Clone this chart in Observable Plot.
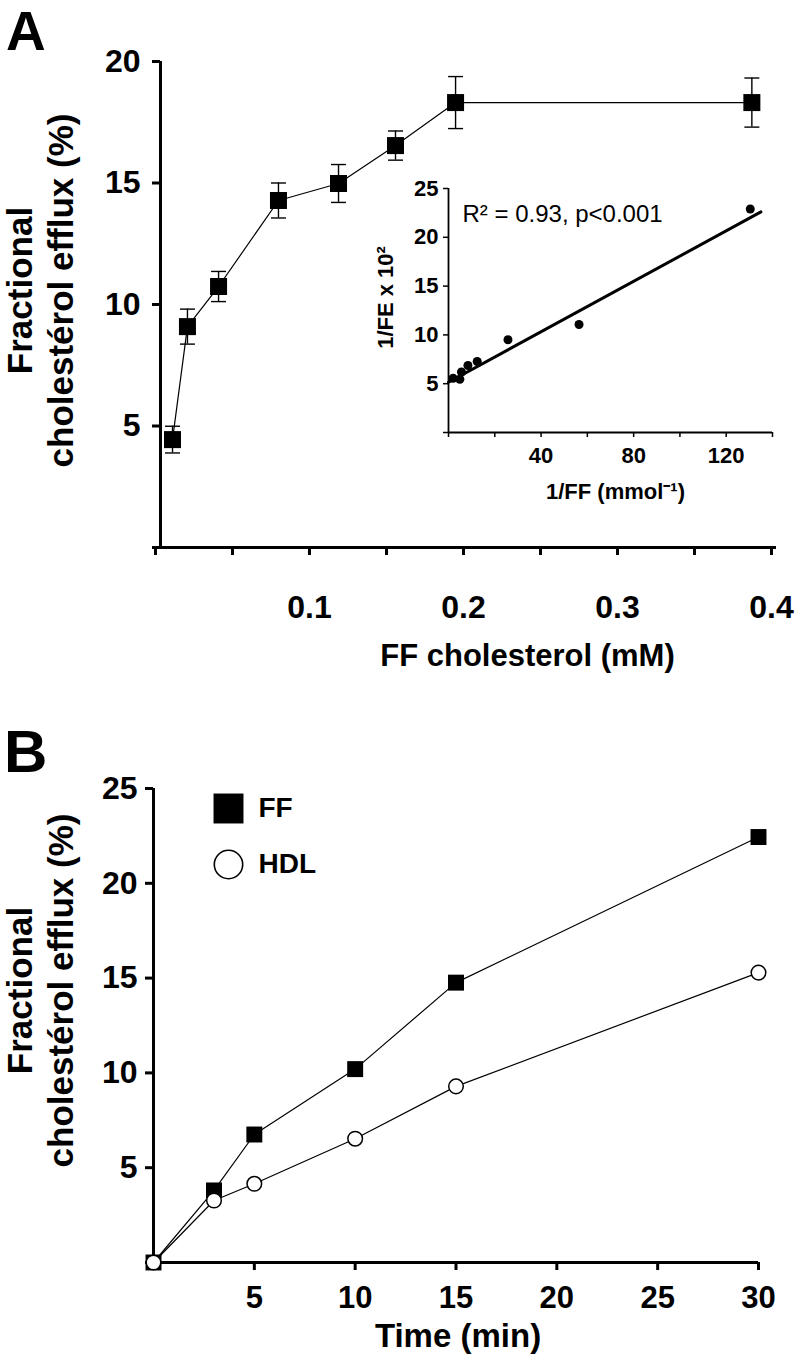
<!DOCTYPE html>
<html>
<head>
<meta charset="utf-8">
<script src="https://cdn.jsdelivr.net/npm/d3@7"></script>
<script src="https://cdn.jsdelivr.net/npm/@observablehq/plot@0.6"></script>
<style>
  html, body { margin: 0; padding: 0; background: white; }
  #wrap { position: relative; width: 797px; height: 1362px; overflow: hidden; font-family: "Liberation Sans", Arial, sans-serif; }
  #wrap > div.panel { position: absolute; }
  .letter { position: absolute; font-weight: bold; line-height: 1.1; color: black; }
</style>
</head>
<body>
<div id="wrap">
  <div class="letter" style="left:6px; top:1px; font-size:55px;">A</div>
  <div class="letter" style="left:4px; top:719px; font-size:60px;">B</div>
  <div class="panel" id="pa" style="left:0; top:0;"></div>
  <div class="panel" id="pinset" style="left:370px; top:170px;"></div>
  <div class="panel" id="pb" style="left:0; top:700px;"></div>
</div>
<script>
// ---------- Panel A: efflux vs FF cholesterol ----------
const ffConc    = [0.0078, 0.0175, 0.0377, 0.0766, 0.1156, 0.1526, 0.1916, 0.384];
const ffEfflux  = [4.44, 9.09, 10.74, 14.28, 14.98, 16.54, 18.31, 18.31];
const ffErr     = [0.55, 0.72, 0.62, 0.72, 0.78, 0.60, 1.07, 1.01];
const xTicksA   = [0, 0.05, 0.1, 0.15, 0.2, 0.25, 0.3, 0.35, 0.4];
const xLabelsA  = [0.1, 0.2, 0.3, 0.4];
const yTicksA   = [0, 5, 10, 15, 20];
const yLabelsA  = [5, 10, 15, 20];
const titleYA   = "Fractional\ncholestérol efflux (%)";
const titleXA   = "FF cholesterol (mM)";

// ---------- Inset: double reciprocal ----------
const invFF     = [2.0, 4.9, 5.6, 8.4, 12.4, 25.7, 56.4, 130.4];
const invFE     = [5.56, 5.46, 6.2, 6.87, 7.27, 9.5, 11.07, 22.9];
const fitX      = [0, 135];
const fitY      = [5.15, 22.6];
const xTicksIn  = [0, 20, 40, 60, 80, 100, 120, 140];
const xLabelsIn = [40, 80, 120];
const yTicksIn  = [0, 5, 10, 15, 20, 25];
const yLabelsIn = [5, 10, 15, 20, 25];
const statText  = "R² = 0.93, p<0.001";
const titleYIn  = "1/FE x 10²";
const titleXIn  = "1/FF (mmol⁻¹)";

// ---------- Panel B: time course ----------
const timeMin   = [0, 3, 5, 10, 15, 30];
const ffB       = [0, 3.8, 6.75, 10.2, 14.76, 22.44];
const hdlB      = [0, 3.27, 4.15, 6.53, 9.29, 15.29];
const seriesB   = ["FF", "HDL"];
const xTicksB   = [0, 5, 10, 15, 20, 25, 30];
const xLabelsB  = [5, 10, 15, 20, 25, 30];
const yTicksB   = [0, 5, 10, 15, 20, 25];
const yLabelsB  = [5, 10, 15, 20, 25];
const titleYB   = "Fractional\ncholestérol efflux (%)";
const titleXB   = "Time (min)";

const FONT = "Liberation Sans, Arial, sans-serif";
const fmt = (labels) => (d) => labels.includes(d) ? String(d) : "";
const capSymbol = { draw(ctx, size) { const r = Math.sqrt(size / Math.PI); ctx.moveTo(-r, 0); ctx.lineTo(r, 0); } };

const rowsA = ffConc.map((x, i) => ({x, y: ffEfflux[i], lo: ffEfflux[i] - ffErr[i], hi: ffEfflux[i] + ffErr[i]}));

const plotA = Plot.plot({
  width: 797, height: 680,
  marginLeft: 160, marginRight: 21, marginTop: 61, marginBottom: 133,
  x: {domain: [0, 0.4], label: null},
  y: {domain: [0, 20], label: null},
  style: {fontFamily: FONT, background: "transparent", color: "black", overflow: "visible"},
  marks: [
    Plot.ruleX(rowsA, {x: "x", y1: "lo", y2: "hi", stroke: "black", strokeWidth: 1.4}),
    Plot.dot(rowsA, {x: "x", y: "lo", symbol: capSymbol, r: 7.5, stroke: "black", fill: "none", strokeWidth: 1.4}),
    Plot.dot(rowsA, {x: "x", y: "hi", symbol: capSymbol, r: 7.5, stroke: "black", fill: "none", strokeWidth: 1.4}),
    Plot.line(rowsA, {x: "x", y: "y", stroke: "black", strokeWidth: 1.2}),
    Plot.dot(rowsA, {x: "x", y: "y", symbol: "square", r: 9.6, fill: "black", stroke: "none"}),
    Plot.ruleX([0], {stroke: "black", strokeWidth: 3}),
    Plot.ruleY([0], {stroke: "black", strokeWidth: 3}),
    Plot.axisX({ticks: xTicksA, tickFormat: fmt(xLabelsA), tickSize: 8, tickPadding: 40, strokeWidth: 3,
      fontSize: 32, fontWeight: "bold", label: null, dx: -5}),
    Plot.axisY({ticks: yTicksA, tickFormat: fmt(yLabelsA), tickSize: 8, tickPadding: 12, strokeWidth: 3,
      fontSize: 32, fontWeight: "bold", label: null}),
    Plot.text([titleYA], {text: d => d, frameAnchor: "left", rotate: -90, dx: -121, dy: -14,
      textAnchor: "middle", lineAnchor: "middle", lineHeight: 1.17, fontSize: 35, fontWeight: "bold", fill: "black"}),
    Plot.text([titleXA], {text: d => d, frameAnchor: "bottom", dx: 59, dy: 118,
      textAnchor: "middle", lineAnchor: "bottom", fontSize: 31, fontWeight: "bold", fill: "black"})
  ]
});
document.getElementById("pa").append(plotA);

const rowsIn = invFF.map((x, i) => ({x, y: invFE[i]}));
const rowsFit = fitX.map((x, i) => ({x, y: fitY[i]}));

const plotIn = Plot.plot({
  width: 420, height: 350,
  marginLeft: 78, marginRight: 18, marginTop: 18, marginBottom: 88,
  x: {domain: [0, 140], label: null},
  y: {domain: [0, 25], label: null},
  style: {fontFamily: FONT, background: "transparent", color: "black", overflow: "visible"},
  marks: [
    Plot.ruleX([0], {stroke: "black", strokeWidth: 1.8}),
    Plot.ruleY([0], {stroke: "black", strokeWidth: 1.8}),
    Plot.axisX({ticks: xTicksIn, tickFormat: fmt(xLabelsIn), tickSize: 5, tickPadding: 10, strokeWidth: 1.5,
      fontSize: 22, fontWeight: "bold", label: null}),
    Plot.axisY({ticks: yTicksIn, tickFormat: fmt(yLabelsIn), tickSize: 5, tickPadding: 5, strokeWidth: 1.5,
      fontSize: 22, fontWeight: "bold", label: null}),
    Plot.line(rowsFit, {x: "x", y: "y", stroke: "black", strokeWidth: 3}),
    Plot.dot(rowsIn, {x: "x", y: "y", r: 4.5, fill: "black", stroke: "none"}),
    Plot.text([statText], {text: d => d, frameAnchor: "top-left", dx: 14, dy: 33,
      textAnchor: "start", lineAnchor: "bottom", fontSize: 24, fill: "black"}),
    Plot.text([titleYIn], {text: d => d, frameAnchor: "left", rotate: -90, dx: -56, dy: -13,
      textAnchor: "middle", lineAnchor: "bottom", fontSize: 22, fontWeight: "bold", fill: "black"}),
    Plot.text([titleXIn], {text: d => d, frameAnchor: "bottom", dx: 5, dy: 66,
      textAnchor: "middle", lineAnchor: "bottom", fontSize: 22, fontWeight: "bold", fill: "black"})
  ]
});
document.getElementById("pinset").append(plotIn);

const rowsFF = timeMin.map((x, i) => ({x, y: ffB[i]}));
const rowsHDL = timeMin.map((x, i) => ({x, y: hdlB[i]}));

const plotB = Plot.plot({
  width: 797, height: 662,
  marginLeft: 153, marginRight: 39, marginTop: 88, marginBottom: 100,
  x: {domain: [0, 30], label: null},
  y: {domain: [0, 25], label: null},
  style: {fontFamily: FONT, background: "transparent", color: "black", overflow: "visible"},
  marks: [
    Plot.ruleX([0], {stroke: "black", strokeWidth: 3}),
    Plot.ruleY([0], {stroke: "black", strokeWidth: 3}),
    Plot.axisX({ticks: xTicksB, tickFormat: fmt(xLabelsB), tickSize: 8, tickPadding: 15, strokeWidth: 3,
      fontSize: 31, fontWeight: "bold", label: null}),
    Plot.axisY({ticks: yTicksB, tickFormat: fmt(yLabelsB), tickSize: 8, tickPadding: 8, strokeWidth: 3,
      fontSize: 32, fontWeight: "bold", label: null}),
    Plot.line(rowsFF, {x: "x", y: "y", stroke: "black", strokeWidth: 1.2}),
    Plot.dot(rowsFF, {x: "x", y: "y", symbol: "square", r: 9, fill: "black", stroke: "none"}),
    Plot.line(rowsHDL, {x: "x", y: "y", stroke: "black", strokeWidth: 1.2}),
    Plot.dot(rowsHDL, {x: "x", y: "y", r: 7.3, fill: "white", stroke: "black", strokeWidth: 1.5}),
    // legend
    Plot.dot([seriesB[0]], {frameAnchor: "top-left", dx: 75, dy: 20, symbol: "square", r: 16.9, fill: "black", stroke: "none"}),
    Plot.dot([seriesB[1]], {frameAnchor: "top-left", dx: 75, dy: 76, r: 14.2, fill: "white", stroke: "black", strokeWidth: 1.6}),
    Plot.text([seriesB[0]], {text: d => d, frameAnchor: "top-left", dx: 105, dy: 20,
      textAnchor: "start", lineAnchor: "middle", fontSize: 28, fontWeight: "bold", fill: "black"}),
    Plot.text([seriesB[1]], {text: d => d, frameAnchor: "top-left", dx: 105, dy: 76,
      textAnchor: "start", lineAnchor: "middle", fontSize: 28, fontWeight: "bold", fill: "black"}),
    Plot.text([titleYB], {text: d => d, frameAnchor: "left", rotate: -90, dx: -114, dy: -35,
      textAnchor: "middle", lineAnchor: "middle", lineHeight: 1.17, fontSize: 35, fontWeight: "bold", fill: "black"}),
    Plot.text([titleXB], {text: d => d, frameAnchor: "bottom", dx: 2, dy: 84,
      textAnchor: "middle", lineAnchor: "bottom", fontSize: 33, fontWeight: "bold", fill: "black"})
  ]
});
document.getElementById("pb").append(plotB);
</script>
</body>
</html>
